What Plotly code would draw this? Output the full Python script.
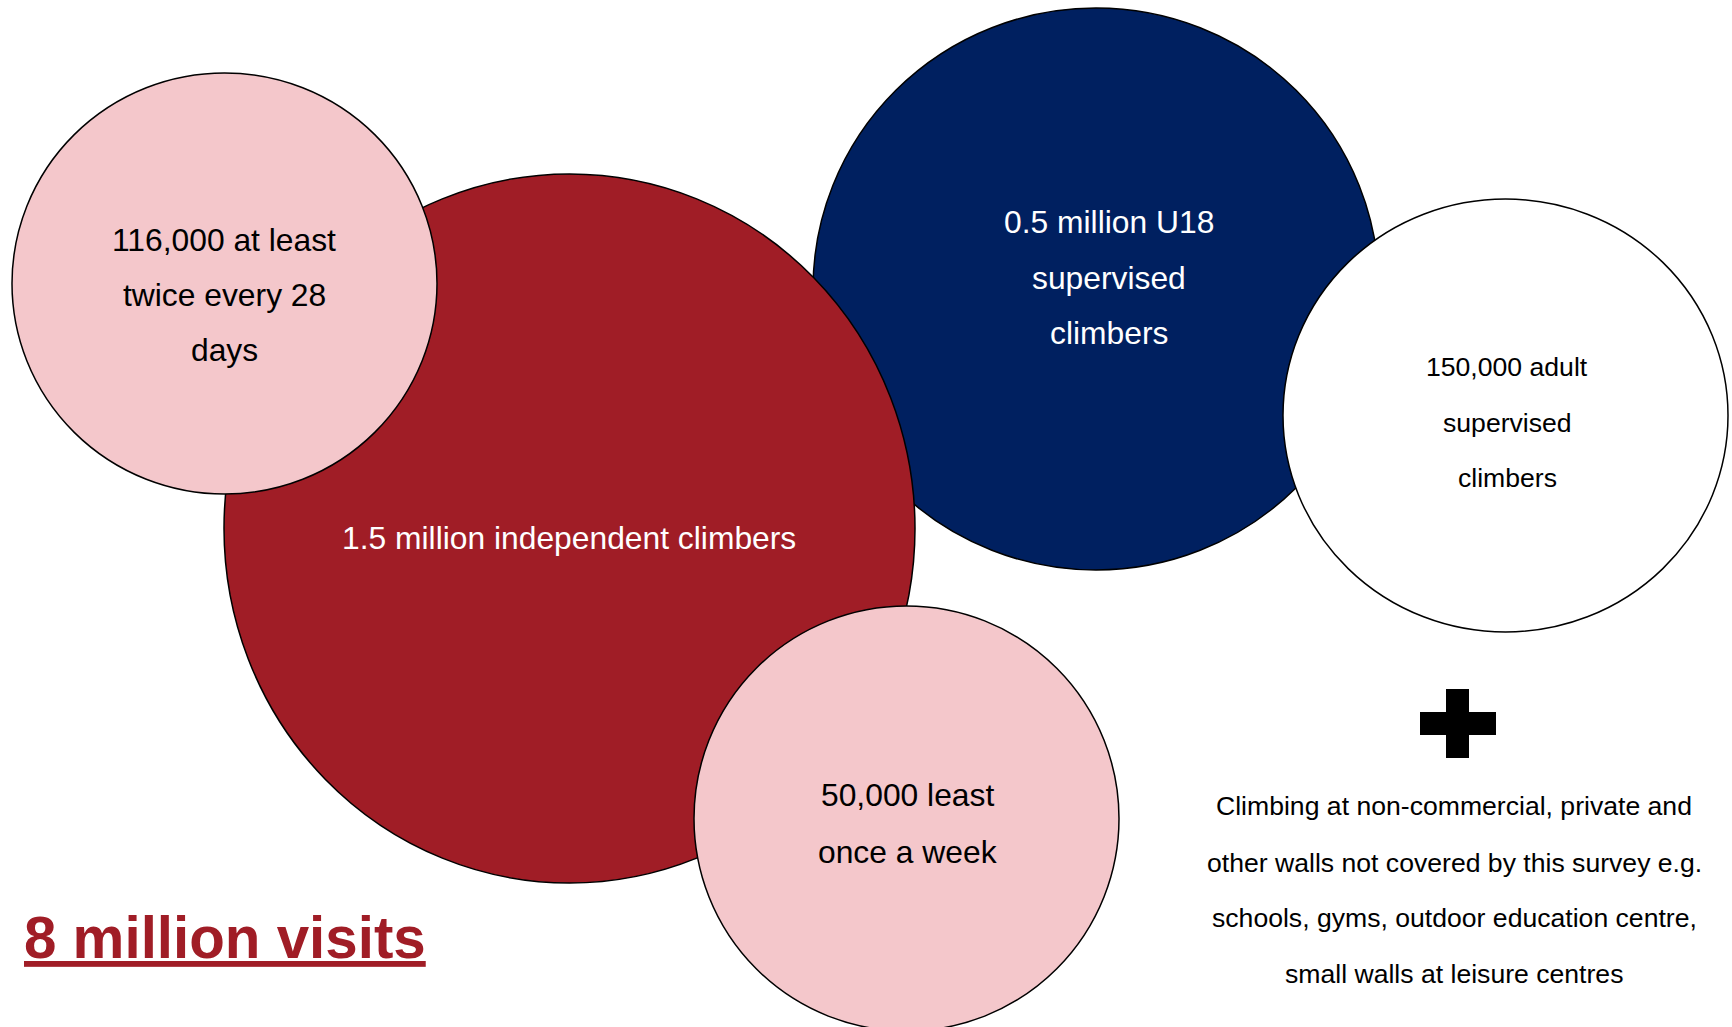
import plotly.graph_objects as go

# ---- Labels drawn in each bubble (one entry per text line) ----
independent_lines = ["1.5 million independent climbers"]
frequent_lines = ["116,000 at least", "twice every 28", "days"]
weekly_lines = ["50,000 least", "once a week"]
u18_lines = ["0.5 million U18", "supervised", "climbers"]
adult_lines = ["150,000 adult", "supervised", "climbers"]
note_lines = [
    "Climbing at non-commercial, private and",
    "other walls not covered by this survey e.g.",
    "schools, gyms, outdoor education centre,",
    "small walls at leisure centres",
]
total_label = "8 million visits"

# ---- Canvas (axes run in pixel units, y pointing down) ----
W, H = 1732, 1027
FONT = "Arial, Liberation Sans, sans-serif"
RED = "#A01D26"
NAVY = "#002060"
PINK = "#F4C7CB"
BIG, SMALL = 31.8, 26.6

# bubble boxes: (x0, x1, y0, y1), fill, text colour, font size, line centres
bubbles = [
    dict(box=(813, 1379, 8, 570), fill=NAVY, color="white", size=BIG,
         lines=u18_lines, cx=1109, ys=[222, 278, 333]),
    dict(box=(1283, 1728, 199, 632), fill="white", color="black", size=SMALL,
         lines=adult_lines, cx=1507, ys=[367, 423, 478]),
    dict(box=(224, 915, 174, 883), fill=RED, color="white", size=BIG,
         lines=independent_lines, cx=569, ys=[538]),
    dict(box=(12, 437, 73, 494), fill=PINK, color="black", size=BIG,
         lines=frequent_lines, cx=224, ys=[240, 295, 350]),
    dict(box=(694, 1119, 606, 1031), fill=PINK, color="black", size=BIG,
         lines=weekly_lines, cx=907, ys=[795, 852]),
]

shapes = []
annotations = []
for b in bubbles:
    x0, x1, y0, y1 = b["box"]
    shapes.append(dict(type="circle", xref="x", yref="y",
                       x0=x0, x1=x1, y0=y0, y1=y1,
                       fillcolor=b["fill"], line=dict(color="black", width=1.5),
                       layer="above"))
for b in bubbles:
    for txt, y in zip(b["lines"], b["ys"]):
        annotations.append(dict(x=b["cx"], y=y, xref="x", yref="y", text=txt,
                                showarrow=False, xanchor="center", yanchor="middle",
                                font=dict(family=FONT, size=b["size"], color=b["color"])))

# plus sign
shapes.append(dict(type="rect", xref="x", yref="y", x0=1446, x1=1469, y0=689, y1=758,
                   fillcolor="black", line=dict(width=0), layer="above"))
shapes.append(dict(type="rect", xref="x", yref="y", x0=1420, x1=1496, y0=712, y1=735,
                   fillcolor="black", line=dict(width=0), layer="above"))

# note below the plus sign
for txt, y in zip(note_lines, [806, 863, 918, 974]):
    annotations.append(dict(x=1454, y=y, xref="x", yref="y", text=txt,
                            showarrow=False, xanchor="center", yanchor="middle",
                            font=dict(family=FONT, size=SMALL, color="black")))

# headline total
annotations.append(dict(x=22, y=937, xref="x", yref="y",
                        text="<u><b>" + total_label + "</b></u>",
                        showarrow=False, xanchor="left", yanchor="middle",
                        font=dict(family=FONT, size=58.3, color=RED)))

fig = go.Figure()
fig.update_layout(
    width=W, height=H, autosize=False,
    margin=dict(l=0, r=0, t=0, b=0),
    paper_bgcolor="white", plot_bgcolor="white",
    xaxis=dict(range=[0, W], visible=False, fixedrange=True),
    yaxis=dict(range=[H, 0], visible=False, fixedrange=True),
    shapes=shapes, annotations=annotations, showlegend=False,
)
fig.write_html("out.html", config={"displayModeBar": False})
